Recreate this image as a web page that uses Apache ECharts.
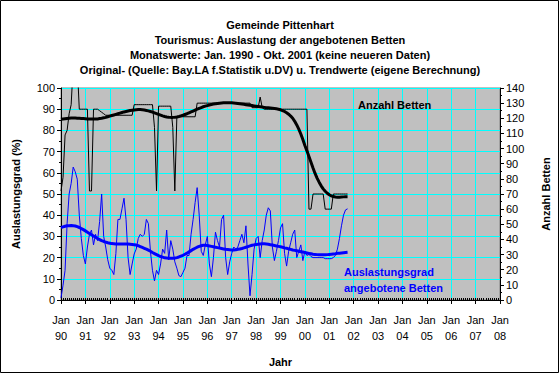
<!DOCTYPE html>
<html><head><meta charset="utf-8">
<script src="https://cdn.jsdelivr.net/npm/echarts@6/dist/echarts.min.js"></script>
<style>html,body{margin:0;padding:0;background:#fff}#c{width:560px;height:374px}</style>
</head><body><div id="c"></div>
<script>
// Year tick labels (Jan of each year, 1990 .. 2008)
const yearLabels = ['90','91','92','93','94','95','96','97','98','99','00','01','02','03','04','05','06','07','08'];

// Monthly values Jan 1990 .. Oct 2001
const auslastung = [
  1, 7, 14, 36, 50, 55, 62.7, 60.5, 57, 40, 29, 21,
  17, 25, 31, 33, 26, 31, 28, 37, 50, 30, 25, 19,
  15, 14, 12, 22, 38, 38, 43, 48, 38, 20, 12, 17,
  21.7, 24, 29, 31, 30, 31, 38, 36, 23, 14, 9, 14,
  12, 17, 24, 22, 33, 19, 28, 24, 18, 15, 11.5, 11,
  13, 15, 21, 21, 31, 38, 46, 53, 40, 23, 21, 26,
  30, 17, 11, 20, 32, 28, 25, 38, 40, 20, 12, 18,
  22, 25, 24, 25, 28, 31, 27, 35, 17, 2, 12, 24,
  29, 30, 20, 28, 33, 40, 43.5, 42, 25, 18.6, 23, 28,
  34, 36, 22, 16, 23, 27, 31, 33, 20, 23, 26, 18.6,
  23, 21, 21.5, 20.5, 20, 20, 20, 20, 20, 20, 19.5, 19.5,
  19.5, 19.5, 20, 21, 24, 29, 35, 40, 42.5, 43
];
const auslastungTrend = [
  34.2, 34.5, 34.8, 35, 35, 35.1, 35, 34.9, 34.6, 34.2, 33.7, 33.2,
  32.6, 32, 31.4, 30.8, 30.2, 29.6, 29, 28.5, 28, 27.6, 27.3, 27,
  26.8, 26.6, 26.5, 26.4, 26.4, 26.4, 26.4, 26.4, 26.4, 26.4, 26.3, 26.2,
  26.1, 25.9, 25.6, 25.2, 24.8, 24.4, 24, 23.5, 23, 22.4, 21.9, 21.4,
  20.9, 20.5, 20.2, 19.9, 19.8, 19.7, 19.7, 19.7, 19.8, 20, 20.3, 20.7,
  21.1, 21.6, 22.1, 22.7, 23.3, 23.9, 24.4, 24.9, 25.3, 25.6, 25.8, 25.8,
  25.7, 25.5, 25.3, 25.1, 24.9, 24.7, 24.5, 24.3, 24.1, 23.9, 23.8, 23.7,
  23.6, 23.6, 23.7, 23.9, 24.1, 24.3, 24.6, 24.9, 25.2, 25.5, 25.8, 26,
  26.2, 26.3, 26.4, 26.5, 26.5, 26.4, 26.3, 26.1, 25.9, 25.7, 25.5, 25.3,
  25.1, 24.9, 24.6, 24.4, 24.1, 23.9, 23.6, 23.4, 23.2, 23, 22.8, 22.6,
  22.4, 22.2, 22, 21.8, 21.6, 21.5, 21.4, 21.3, 21.3, 21.3, 21.3, 21.4,
  21.5, 21.6, 21.7, 21.8, 22, 22.1, 22.2, 22.3, 22.4, 22.5
];
const betten = [
  72, 81, 109, 112, 123, 129, 155, 155, 155, 126, 126, 126,
  126, 126, 72, 72, 126, 126, 126, 125, 124, 123, 122, 122,
  122, 122, 122, 122, 122, 122, 122, 122, 122, 122, 122, 122,
  129, 129, 129, 129, 129, 129, 129, 129, 129, 129, 114, 72,
  128, 128, 128, 128, 128, 128, 128, 114, 72, 121, 121, 121,
  121, 121, 121, 121, 121, 121, 121, 130, 130, 130, 130, 130,
  130, 130, 130, 130, 130, 130, 130, 130, 130, 130, 130, 130,
  130, 130, 130, 130, 130, 130, 130, 130, 130, 130, 127, 127,
  127, 127, 134, 127, 126, 126, 126, 126, 126, 126, 126, 126,
  126, 126, 126, 126, 126, 126, 126, 126, 126, 126, 126, 126,
  126, 126, 60, 60, 70, 70, 70, 70, 70, 70, 60, 60,
  60, 60, 70, 70, 70, 70, 70, 70, 70, 70
];
const bettenTrend = [
  119.3, 119.5, 119.7, 119.9, 120.1, 120.2, 120.2, 120.2, 120.1, 120, 119.9, 119.8,
  119.7, 119.6, 119.5, 119.5, 119.5, 119.5, 119.6, 119.8, 120, 120.3, 120.6, 121,
  121.4, 121.8, 122.2, 122.6, 123, 123.4, 123.8, 124.2, 124.5, 124.8, 125.1, 125.3,
  125.5, 125.7, 125.8, 125.8, 125.7, 125.5, 125.2, 124.9, 124.5, 124.1, 123.6, 123.1,
  122.6, 122.1, 121.6, 121.2, 120.9, 120.7, 120.6, 120.6, 120.7, 120.9, 121.2, 121.6,
  122, 122.5, 123, 123.6, 124.2, 124.8, 125.4, 126, 126.6, 127.1, 127.6, 128,
  128.4, 128.8, 129.1, 129.4, 129.6, 129.8, 130, 130.1, 130.2, 130.3, 130.3, 130.3,
  130.2, 130.1, 130, 129.8, 129.6, 129.4, 129.2, 129, 128.8, 128.6, 128.4, 128.2,
  128, 127.8, 127.6, 127.4, 127.2, 127, 126.9, 126.8, 126.7, 126.5, 126.3, 126,
  125.6, 125.1, 124.5, 123.7, 122.7, 121.5, 120, 118, 115.6, 112.8, 109.6, 106,
  102, 98.5, 94.8, 91, 87.2, 83.6, 80.5, 77.8, 75.4, 73.4, 71.8, 70.5,
  69.5, 68.8, 68.3, 68, 67.9, 67.9, 68, 68.1, 68.2, 68.2
];

const titleLines = [
  'Gemeinde Pittenhart',
  'Tourismus: Auslastung der angebotenen Betten',
  'Monatswerte: Jan. 1990 - Okt. 2001 (keine neueren Daten)',
  'Original- (Quelle: Bay.LA f.Statistik u.DV) u. Trendwerte (eigene Berechnung)'
];

// month categories Jan 90 .. Jan 08
const months = [];
yearLabels.forEach((y, yi) => {
  for (let mo = 1; mo <= 12; mo++) {
    if (yi === yearLabels.length - 1 && mo > 1) break;
    months.push(mo + '/' + y);
  }
});

const FONT = 'Liberation Sans, Arial, sans-serif';
const isJan = (i) => i % 12 === 0;

const chart = echarts.init(document.getElementById('c'), null, {renderer: 'svg'});

const graphics = [
  {type: 'rect', shape: {x: 0.5, y: 0.5, width: 558, height: 372}, style: {fill: 'none', stroke: '#000', lineWidth: 1}, z: 100}
];
titleLines.forEach((t, i) => {
  graphics.push({type: 'text', x: 280, y: 25 + i * 15, style: {text: t, fill: '#000', font: 'bold 11px ' + FONT, textAlign: 'center', textVerticalAlign: 'middle'}});
});
graphics.push({type: 'text', x: 358, y: 105, z: 50, style: {text: 'Anzahl Betten', fill: '#000', font: 'bold 11px ' + FONT, textAlign: 'left', textVerticalAlign: 'middle'}});
graphics.push({type: 'text', x: 344, y: 272, z: 50, style: {text: 'Auslastungsgrad', fill: '#0000ff', font: 'bold 11px ' + FONT, textAlign: 'left', textVerticalAlign: 'middle'}});
graphics.push({type: 'text', x: 344, y: 288, z: 50, style: {text: 'angebotene Betten', fill: '#0000ff', font: 'bold 11px ' + FONT, textAlign: 'left', textVerticalAlign: 'middle'}});

chart.setOption({
  animation: false,
  backgroundColor: '#fff',
  textStyle: {fontFamily: FONT},
  grid: {left: 61, top: 88, right: 60, bottom: 74, show: true, backgroundColor: '#c0c0c0', borderColor: '#808080', borderWidth: 1},
  xAxis: [{
    type: 'category', data: months, boundaryGap: false,
    axisLine: {lineStyle: {color: '#000', width: 1}},
    axisTick: {show: true, interval: (i) => isJan(i), length: 4, lineStyle: {color: '#000'}},
    axisLabel: {interval: (i) => isJan(i), formatter: (v, i) => 'Jan\n' + yearLabels[i / 12], color: '#000', fontSize: 11, fontFamily: FONT, lineHeight: 16, margin: 12},
    splitLine: {show: true, interval: (i) => isJan(i), lineStyle: {color: '#00ffff', width: 1}},
    name: 'Jahr', nameLocation: 'middle', nameGap: 56,
    nameTextStyle: {color: '#000', fontWeight: 'bold', fontSize: 11, fontFamily: FONT}
  }, {
    type: 'category', data: months, boundaryGap: false, position: 'bottom',
    axisLine: {show: false},
    axisTick: {show: true, interval: 0, inside: true, length: 2, lineStyle: {color: '#000'}},
    axisLabel: {show: false}, splitLine: {show: false}
  }],
  yAxis: [{
    type: 'value', min: 0, max: 100, interval: 10, position: 'left',
    axisLine: {show: true, lineStyle: {color: '#000'}},
    axisTick: {show: true, length: 4, lineStyle: {color: '#000'}},
    minorTick: {show: true, splitNumber: 2, length: 2, lineStyle: {color: '#000'}},
    axisLabel: {color: '#000', fontSize: 11, fontFamily: FONT, margin: 6},
    splitLine: {show: true, lineStyle: {color: '#00ffff', width: 1}},
    name: 'Auslastungsgrad (%)', nameLocation: 'middle', nameRotate: 90, nameGap: 40,
    nameTextStyle: {color: '#000', fontWeight: 'bold', fontSize: 11, fontFamily: FONT}
  }, {
    type: 'value', min: 0, max: 140, interval: 10, position: 'right',
    axisLine: {show: true, lineStyle: {color: '#000'}},
    axisTick: {show: true, length: 4, lineStyle: {color: '#000'}},
    minorTick: {show: true, splitNumber: 2, length: 2, lineStyle: {color: '#000'}},
    axisLabel: {color: '#000', fontSize: 11, fontFamily: FONT, margin: 6},
    splitLine: {show: false},
    name: 'Anzahl Betten', nameLocation: 'middle', nameRotate: 90, nameGap: 40,
    nameTextStyle: {color: '#000', fontWeight: 'bold', fontSize: 11, fontFamily: FONT}
  }],
  series: [
    {name: 'Anzahl Betten', type: 'line', yAxisIndex: 1, data: betten, symbol: 'none', clip: true, lineStyle: {color: '#000', width: 1}, z: 3},
    {name: 'Anzahl Betten Trend', type: 'line', yAxisIndex: 1, data: bettenTrend, symbol: 'none', smooth: false, lineStyle: {color: '#000', width: 3}, z: 4},
    {name: 'Auslastungsgrad', type: 'line', yAxisIndex: 0, data: auslastung, symbol: 'none', clip: true, lineStyle: {color: '#0000ff', width: 1}, z: 5},
    {name: 'Auslastungsgrad Trend', type: 'line', yAxisIndex: 0, data: auslastungTrend, symbol: 'none', lineStyle: {color: '#0000ff', width: 3}, z: 6}
  ],
  graphic: graphics
});
</script></body></html>
